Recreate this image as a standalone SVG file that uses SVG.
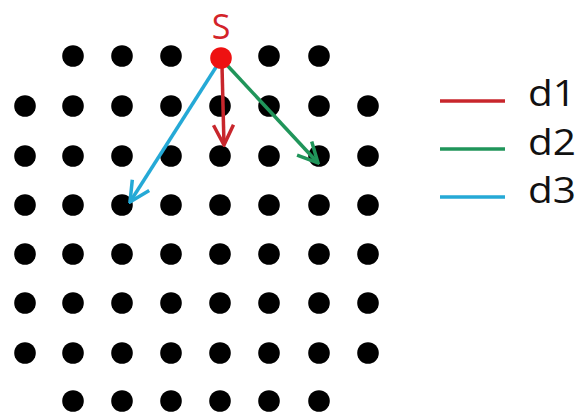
<svg xmlns="http://www.w3.org/2000/svg" width="580" height="414" viewBox="0 0 580 414">
<style>
.d{fill:#000}
.lbl{font-family:"Open Sans","Liberation Sans",sans-serif;font-size:37px;fill:#111}
.r{stroke:#c8262c;stroke-width:3.5;fill:none}
.g{stroke:#20955a;stroke-width:3.5;fill:none}
.b{stroke:#25a9d6;stroke-width:3.5;fill:none}
</style>
<defs>
<marker id="mr" markerUnits="userSpaceOnUse" markerWidth="24" markerHeight="24" viewBox="0 0 24 24" refX="22" refY="12" orient="auto"><path d="M2,2 L22,12 L2,22" class="r"/></marker>
<marker id="mg" markerUnits="userSpaceOnUse" markerWidth="24" markerHeight="24" viewBox="0 0 24 24" refX="22" refY="12" orient="auto"><path d="M2,2 L22,12 L2,22" class="g"/></marker>
<marker id="mb" markerUnits="userSpaceOnUse" markerWidth="24" markerHeight="24" viewBox="0 0 24 24" refX="22" refY="12" orient="auto"><path d="M2,2 L22,12 L2,22" class="b"/></marker>
<circle id="dot" r="10.8"/>
</defs>
<rect width="580" height="414" fill="#fff"/>
<g id="row1">
<g id="n1-2"><use href="#dot" x="73" y="56" class="d"/></g>
<g id="n1-3"><use href="#dot" x="122" y="56" class="d"/></g>
<g id="n1-4"><use href="#dot" x="171" y="56" class="d"/></g>
<g id="n1-6"><use href="#dot" x="269" y="56" class="d"/></g>
<g id="n1-7"><use href="#dot" x="319" y="56" class="d"/></g>
</g>
<g id="row2">
<g id="n2-1"><use href="#dot" x="25" y="106" class="d"/></g>
<g id="n2-2"><use href="#dot" x="73" y="106" class="d"/></g>
<g id="n2-3"><use href="#dot" x="122" y="106" class="d"/></g>
<g id="n2-4"><use href="#dot" x="171" y="106" class="d"/></g>
<g id="n2-5"><use href="#dot" x="220" y="106" class="d"/></g>
<g id="n2-6"><use href="#dot" x="269" y="106" class="d"/></g>
<g id="n2-7"><use href="#dot" x="319" y="106" class="d"/></g>
<g id="n2-8"><use href="#dot" x="368" y="106" class="d"/></g>
</g>
<g id="row3">
<g id="n3-1"><use href="#dot" x="25" y="156" class="d"/></g>
<g id="n3-2"><use href="#dot" x="73" y="156" class="d"/></g>
<g id="n3-3"><use href="#dot" x="122" y="156" class="d"/></g>
<g id="n3-4"><use href="#dot" x="171" y="156" class="d"/></g>
<g id="n3-5"><use href="#dot" x="220" y="156" class="d"/></g>
<g id="n3-6"><use href="#dot" x="269" y="156" class="d"/></g>
<g id="n3-7"><use href="#dot" x="319" y="156" class="d"/></g>
<g id="n3-8"><use href="#dot" x="368" y="156" class="d"/></g>
</g>
<g id="row4">
<g id="n4-1"><use href="#dot" x="25" y="205" class="d"/></g>
<g id="n4-2"><use href="#dot" x="73" y="205" class="d"/></g>
<g id="n4-3"><use href="#dot" x="122" y="205" class="d"/></g>
<g id="n4-4"><use href="#dot" x="171" y="205" class="d"/></g>
<g id="n4-5"><use href="#dot" x="220" y="205" class="d"/></g>
<g id="n4-6"><use href="#dot" x="269" y="205" class="d"/></g>
<g id="n4-7"><use href="#dot" x="319" y="205" class="d"/></g>
<g id="n4-8"><use href="#dot" x="368" y="205" class="d"/></g>
</g>
<g id="row5">
<g id="n5-1"><use href="#dot" x="25" y="254" class="d"/></g>
<g id="n5-2"><use href="#dot" x="73" y="254" class="d"/></g>
<g id="n5-3"><use href="#dot" x="122" y="254" class="d"/></g>
<g id="n5-4"><use href="#dot" x="171" y="254" class="d"/></g>
<g id="n5-5"><use href="#dot" x="220" y="254" class="d"/></g>
<g id="n5-6"><use href="#dot" x="269" y="254" class="d"/></g>
<g id="n5-7"><use href="#dot" x="319" y="254" class="d"/></g>
<g id="n5-8"><use href="#dot" x="368" y="254" class="d"/></g>
</g>
<g id="row6">
<g id="n6-1"><use href="#dot" x="25" y="303" class="d"/></g>
<g id="n6-2"><use href="#dot" x="73" y="303" class="d"/></g>
<g id="n6-3"><use href="#dot" x="122" y="303" class="d"/></g>
<g id="n6-4"><use href="#dot" x="171" y="303" class="d"/></g>
<g id="n6-5"><use href="#dot" x="220" y="303" class="d"/></g>
<g id="n6-6"><use href="#dot" x="269" y="303" class="d"/></g>
<g id="n6-7"><use href="#dot" x="319" y="303" class="d"/></g>
<g id="n6-8"><use href="#dot" x="368" y="303" class="d"/></g>
</g>
<g id="row7">
<g id="n7-1"><use href="#dot" x="25" y="353" class="d"/></g>
<g id="n7-2"><use href="#dot" x="73" y="353" class="d"/></g>
<g id="n7-3"><use href="#dot" x="122" y="353" class="d"/></g>
<g id="n7-4"><use href="#dot" x="171" y="353" class="d"/></g>
<g id="n7-5"><use href="#dot" x="220" y="353" class="d"/></g>
<g id="n7-6"><use href="#dot" x="269" y="353" class="d"/></g>
<g id="n7-7"><use href="#dot" x="319" y="353" class="d"/></g>
<g id="n7-8"><use href="#dot" x="368" y="353" class="d"/></g>
</g>
<g id="row8">
<g id="n8-2"><use href="#dot" x="73" y="401" class="d"/></g>
<g id="n8-3"><use href="#dot" x="122" y="401" class="d"/></g>
<g id="n8-4"><use href="#dot" x="171" y="401" class="d"/></g>
<g id="n8-5"><use href="#dot" x="220" y="401" class="d"/></g>
<g id="n8-6"><use href="#dot" x="269" y="401" class="d"/></g>
<g id="n8-7"><use href="#dot" x="319" y="401" class="d"/></g>
</g>
<g id="connectors">
<line x1="222" y1="66" x2="224" y2="145" class="r" marker-end="url(#mr)"/>
<line x1="226" y1="64" x2="318" y2="163" class="g" marker-end="url(#mg)"/>
<line x1="218" y1="64" x2="130" y2="202" class="b" marker-end="url(#mb)"/>
</g>
<g id="S">
<circle cx="221" cy="58" r="10.8" fill="#ee1111"/>
<text x="221" y="39" text-anchor="middle" font-family="'Open Sans','Liberation Sans',sans-serif" font-size="34" fill="#d3232a">S</text>
</g>
<g id="legend">
<line x1="440" y1="101" x2="505" y2="101" class="r" stroke-width="4"/>
<line x1="440" y1="149" x2="505" y2="149" class="g" stroke-width="4"/>
<line x1="440" y1="197" x2="505" y2="197" class="b" stroke-width="4"/>
<text x="528" y="106" class="lbl" textLength="48" lengthAdjust="spacingAndGlyphs">d1</text>
<text x="528" y="155" class="lbl" textLength="48" lengthAdjust="spacingAndGlyphs">d2</text>
<text x="528" y="203" class="lbl" textLength="48" lengthAdjust="spacingAndGlyphs">d3</text>
</g>
</svg>
